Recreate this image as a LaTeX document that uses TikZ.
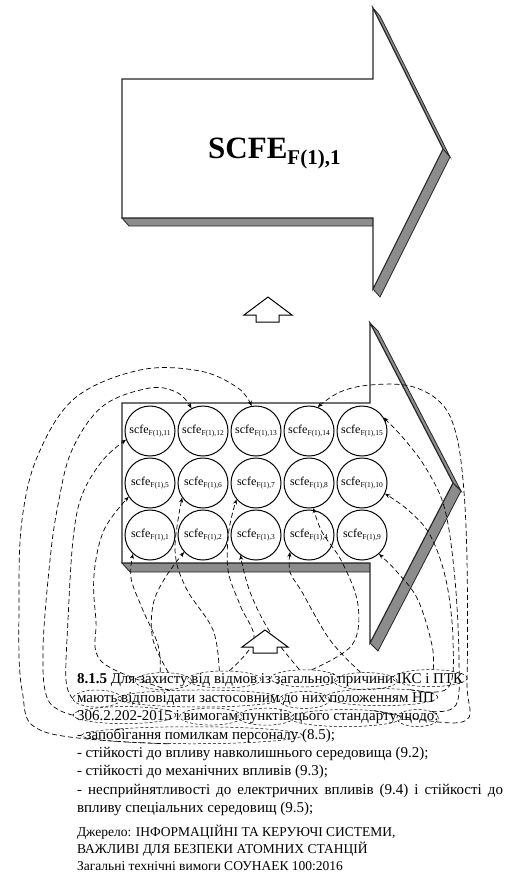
\documentclass[tikz,border=0pt]{standalone}
\usepackage{fontspec}
\setmainfont{Liberation Serif}
\usetikzlibrary{arrows.meta,shapes.geometric,calc}
\newcommand\wrapell[2]{\path let \p1=($(#1.east)-(#1.west)$) in node[ell, minimum width=\x1+8pt, minimum height=17pt] (#2) at (#1.center) {};}
\begin{document}
\begin{tikzpicture}[x=1pt,y=-1pt,
  face/.style={draw=black!85, line width=1.1pt, fill=white, line join=miter},
  side/.style={draw=black!85, line width=0.8pt, fill=black!45, line join=miter},
  cir/.style={circle, draw, line width=1pt, minimum size=50pt, inner sep=0pt, font=\fontsize{12}{12}\selectfont},
  conn/.style={line width=0.7pt, dash pattern=on 5pt off 3pt, -{Stealth[length=5pt,width=4pt]}},
  ell/.style={ellipse, draw, line width=0.5pt, inner sep=0pt, dash pattern=on 3pt off 2pt},
  w/.style={inner sep=0pt, outer sep=0pt, anchor=base west, font=\fontsize{15}{18}\selectfont},
  src/.style={inner sep=0pt, outer sep=0pt, anchor=base west, font=\fontsize{13.5}{15}\selectfont},
  hollow/.style={draw=black, line width=1pt, fill=white, line join=miter},
]
\useasboundingbox (0,0) rectangle (512,883);

% ---------- top big arrow ----------
\draw[side] (122,218) -- (373,218) -- (380,226) -- (129,226) -- cycle;
\draw[side] (373,8) -- (443,149) -- (450,157) -- (380,16) -- cycle;
\draw[side] (443,149) -- (373,289) -- (380,297) -- (450,157) -- cycle;
\draw[face] (122,79) -- (373,79) -- (373,8) -- (443,149) -- (373,289) -- (373,218) -- (122,218) -- cycle;
\node[inner sep=0pt, anchor=base west] (big) at (208,158)
  {\fontsize{31}{31}\selectfont\bfseries SCFE\raisebox{-6pt}{\fontsize{21}{21}\selectfont F(1),1}};

% ---------- small arrow 1 ----------
\draw[hollow] (268,297) -- (292,315) -- (279,315) -- (279,322) -- (256,322) -- (256,315) -- (244,315) -- cycle;

% ---------- lower big arrow ----------
\draw[side] (122,563) -- (370,563) -- (378,572) -- (130,572) -- cycle;
\draw[side] (370,323) -- (453,483) -- (461,491) -- (378,331) -- cycle;
\draw[side] (453,483) -- (370,643) -- (378,651) -- (461,491) -- cycle;
\draw[face] (122,403) -- (370,403) -- (370,323) -- (453,483) -- (370,643) -- (370,563) -- (122,563) -- cycle;

% ---------- circles ----------
\foreach \n/\x/\y in {11/150/431,12/203/431,13/256/431,14/309/431,15/362/431,
                      5/150/483,6/203/483,7/256/483,8/309/483,10/362/483,
                      1/150/535,2/203/535,3/256/535,4/309/535,9/362/535}
  \node[cir] (c\n) at (\x,\y) {scfe\raisebox{-2.5pt}{\fontsize{7.5}{7.5}\selectfont F(1),\n}};

% ---------- text ----------
\node[w] (l1a) at (77,683) {\textbf{8.1.5} Для};
\node[w] (w1) at ($(l1a.base east)+(3.75,0)$) {захисту};
\node[w] (w2) at ($(w1.base east)+(3.75,0)$) {від відмов};
\node[w] (l1b) at ($(w2.base east)+(3.75,0)$) {із};
\node[w] (w3) at ($(l1b.base east)+(3.75,0)$) {загальної};
\node[w] (w4) at ($(w3.base east)+(3.75,0)$) {причини};
\node[w] (w5) at ($(w4.base east)+(3.75,0)$) {ІКС і ПТК};

\node[w] (w6) at (77,702) {мають};
\node[w] (w7) at ($(w6.base east)+(3.75,0)$) {відповідати застосовним};
\node[w] (w8) at ($(w7.base east)+(3.75,0)$) {до них};
\node[w] (w9) at ($(w8.base east)+(3.75,0)$) {положенням НП};

\node[w] (w10) at (77,720) {306.2.202-2015};
\node[w] (l3a) at ($(w10.base east)+(3.75,0)$) {і};
\node[w] (w11) at ($(l3a.base east)+(3.75,0)$) {вимогам};
\node[w] (w12) at ($(w11.base east)+(3.75,0)$) {пунктів};
\node[w] (w13) at ($(w12.base east)+(3.75,0)$) {цього стандарту};
\node[w] (w14) at ($(w13.base east)+(3.75,0)$) {щодо};
\node[w] (l3b) at (w14.base east) {:};

\node[w] (l4a) at (77,739) {-};
\node[w] (w15) at ($(l4a.base east)+(3.75,0)$) {запобігання помилкам персоналу};
\node[w] (l4b) at ($(w15.base east)+(3.75,0)$) {(8.5);};

\node[w] (l5) at (77,757) {- стійкості до впливу навколишнього середовища (9.2);};
\node[w] (l6) at (77,775) {- стійкості до механічних впливів (9.3);};
\node[w] (l7) at (77,794) {\makebox[426pt][s]{- несприйнятливості до електричних впливів (9.4) і стійкості до}};
\node[w] (l8) at (77,812) {впливу спеціальних середовищ (9.5);};

\node[src] (s1) at (77,836) {Джерело: ІНФОРМАЦІЙНІ ТА КЕРУЮЧІ СИСТЕМИ,};
\node[src] (s2) at (77,853) {ВАЖЛИВІ ДЛЯ БЕЗПЕКИ АТОМНИХ СТАНЦІЙ};
\node[src] (s3) at (77,870) {Загальні технічні вимоги СОУНАЕК 100:2016};

\foreach \i in {1,...,15} {\wrapell{w\i}{e\i}}

% ---------- connectors ----------
\draw[conn] plot[smooth, tension=0.6] coordinates {(e15.200) (45,732) (22,690) (19,600) (22,520) (38,455) (75,398) (140,370) (200,371) (238,388) (c13.100)};
\draw[conn] plot[smooth, tension=0.6] coordinates {(e10.west) (48,700) (43,650) (50,560) (58,505) (72,450) (103,406) (150,388) (178,393) (c12.117)};
\draw[conn] plot[smooth, tension=0.6] coordinates {(e6.west) (66,680) (68,620) (73,540) (82,495) (103,460) (c11.200)};
\draw[conn] plot[smooth, tension=0.6] coordinates {(e7.165) (102,662) (96,620) (94,575) (104,530) (c5.213)};
\draw[conn] plot[smooth, tension=0.6] coordinates {(e1.110) (158,645) (142,608) (131,578) (c1.228)};
\draw[conn] plot[smooth, tension=0.6] coordinates {(e1.60) (153,640) (153,605) (165,578) (c2.222)};
\draw[conn] plot[smooth, tension=0.6] coordinates {(e2.120) (213,630) (186,588) (175,550) (c6.215)};
\draw[conn] plot[smooth, tension=0.6] coordinates {(e2.60) (254,640) (240,605) (228,570) (229,530) (c7.220)};
\draw[conn] plot[smooth, tension=0.6] coordinates {(e3.120) (270,632) (250,592) (c3.232)};
\draw[conn] plot[smooth, tension=0.6] coordinates {(e4.120) (330,640) (302,592) (290,572) (c4.222)};
\draw[conn] plot[smooth, tension=0.6] coordinates {(e3.50) (352,645) (358,605) (342,562) (322,532) (c8.280)};
\draw[conn] plot[smooth, tension=0.6] coordinates {(e5.70) (432,645) (418,600) (398,573) (c9.312)};
\draw[conn] plot[smooth, tension=0.6] coordinates {(e9.15) (448,688) (453,640) (446,580) (430,535) (408,510) (c10.335)};
\draw[conn] plot[smooth, tension=0.6] coordinates {(e14.25) (456,705) (459,660) (455,580) (445,510) (427,470) (405,440) (c15.32)};
\draw[conn] plot[smooth, tension=0.6] coordinates {(e13.15) (462,722) (467,680) (467,560) (463,480) (455,430) (440,402) (410,386) (370,385) (340,392) (c14.70)};

% ---------- small arrow 2 ----------
\draw[hollow] (265,630) -- (288,647) -- (277,647) -- (277,653) -- (253,653) -- (253,647) -- (242,647) -- cycle;
\end{tikzpicture}
\end{document}
